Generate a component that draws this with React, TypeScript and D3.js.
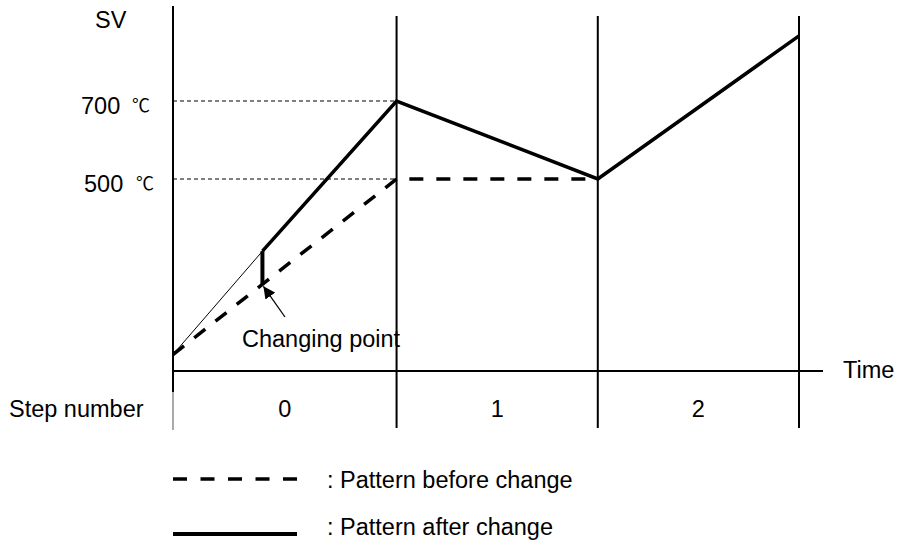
import React from "react";
import * as d3 from "d3";

// ---- data ----
const stepBoundaries = [0, 10, 19, 28]; // time (min) of step boundaries
const stepLabels = ["0", "1", "2"];
const refLevels = [700, 500];
const refLabels = ["700", "500"];

const beforeTimes = [0, 10, 19];
const beforeValues = [50, 500, 500];

const afterThinTimes = [0, 4];
const afterThinValues = [50, 315];

const afterTimes = [4, 10, 19, 28];
const afterValues = [315, 700, 500, 867];

const changeTime = 4;
const changeBefore = 230;
const changeAfter = 315;

const W = 897;
const H = 545;
const FONT = "'Liberation Sans', Arial, sans-serif";
const FS = 23.5;

export default function App() {
  const x = d3.scaleLinear().domain([0, 28]).range([173, 799]);
  const y = d3.scaleLinear().domain([500, 700]).range([179, 101]);
  const axisY = 371;

  const line = d3
    .line<[number, number]>()
    .x((d) => x(d[0]))
    .y((d) => y(d[1]));

  const before = beforeTimes.map((t, i) => [t, beforeValues[i]] as [number, number]);
  const afterThin = afterThinTimes.map((t, i) => [t, afterThinValues[i]] as [number, number]);
  const after = afterTimes.map((t, i) => [t, afterValues[i]] as [number, number]);

  const cx = x(changeTime);
  const cyBefore = y(changeBefore);

  return (
    <svg
      width={W}
      height={H}
      style={{ position: "absolute", left: 0, top: 0, background: "#fff" }}
      fontFamily={FONT}
    >
      <defs>
        <marker
          id="arrowHead"
          viewBox="0 0 10 10"
          refX="10"
          refY="5"
          markerWidth="12"
          markerHeight="12"
          markerUnits="userSpaceOnUse"
          orient="auto"
        >
          <path d="M0,0 L10,5 L0,10 z" fill="#000" />
        </marker>
      </defs>

      {/* reference dashed lines */}
      {refLevels.map((v) => (
        <line
          key={"ref" + v}
          x1={x(0)}
          x2={x(stepBoundaries[1])}
          y1={y(v)}
          y2={y(v)}
          stroke="#000"
          strokeWidth={1}
          strokeDasharray="4,3"
        />
      ))}

      {/* y axis */}
      <line x1={x(0)} x2={x(0)} y1={6} y2={392} stroke="#000" strokeWidth={2} />
      <line x1={x(0)} x2={x(0)} y1={392} y2={430} stroke="#555" strokeWidth={1} />

      {/* step boundary verticals */}
      {stepBoundaries.slice(1).map((t) => (
        <line
          key={"v" + t}
          x1={x(t)}
          x2={x(t)}
          y1={16}
          y2={428}
          stroke="#000"
          strokeWidth={2}
        />
      ))}

      {/* time axis */}
      <line x1={x(0)} x2={823} y1={axisY} y2={axisY} stroke="#000" strokeWidth={2} />
      <text x={843} y={378} fontSize={FS}>Time</text>

      {/* Y labels */}
      <text x={95} y={28} fontSize={FS}>SV</text>
      {refLevels.map((v, i) => (
        <g key={"lab" + v}>
          <text x={i === 0 ? 81 : 84} y={y(v) + 13} fontSize={FS}>{refLabels[i]}</text>
          <text
            x={i === 0 ? 132 : 136}
            y={y(v) + 11}
            fontSize={18}
            fontFamily="'Noto Sans CJK JP', 'DejaVu Sans', sans-serif"
          >
            ℃
          </text>
        </g>
      ))}

      {/* before change (dashed) */}
      <path
        d={line(before) || ""}
        fill="none"
        stroke="#000"
        strokeWidth={3.5}
        strokeDasharray="14,13"
      />

      {/* after change thin part */}
      <path d={line(afterThin) || ""} fill="none" stroke="#000" strokeWidth={1} />
      {/* change jump */}
      <line
        x1={cx}
        x2={cx}
        y1={y(changeAfter)}
        y2={cyBefore}
        stroke="#000"
        strokeWidth={4}
      />
      {/* after change thick */}
      <path
        d={line(after) || ""}
        fill="none"
        stroke="#000"
        strokeWidth={3.5}
        strokeLinejoin="miter"
      />

      {/* changing point arrow */}
      <line
        x1={285}
        y1={317}
        x2={cx + 1}
        y2={cyBefore + 2}
        stroke="#000"
        strokeWidth={1.3}
        markerEnd="url(#arrowHead)"
      />
      <text x={242} y={347} fontSize={FS}>Changing point</text>

      {/* step row */}
      <text x={9} y={417} fontSize={FS}>Step number</text>
      {stepLabels.map((s, i) => (
        <text
          key={"s" + s}
          x={(x(stepBoundaries[i]) + x(stepBoundaries[i + 1])) / 2}
          y={417}
          fontSize={FS}
          textAnchor="middle"
        >
          {s}
        </text>
      ))}

      {/* legend */}
      <line
        x1={173}
        x2={297}
        y1={479}
        y2={479}
        stroke="#000"
        strokeWidth={3.5}
        strokeDasharray="14,13.5"
      />
      <text x={327} y={488} fontSize={FS}>: Pattern before change</text>
      <line x1={173} x2={297} y1={534} y2={534} stroke="#000" strokeWidth={4} />
      <text x={327} y={535} fontSize={FS}>: Pattern after change</text>
    </svg>
  );
}
